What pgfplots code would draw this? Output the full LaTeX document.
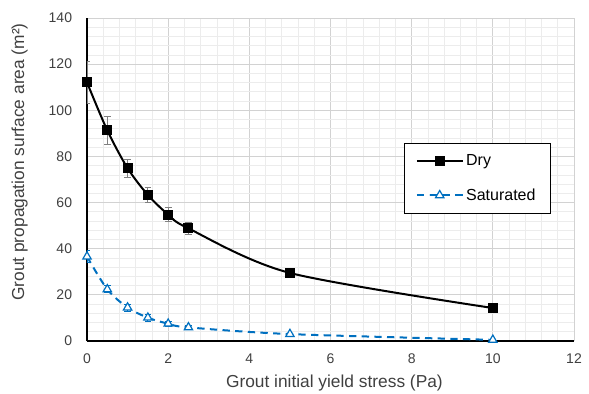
\documentclass[border=0pt]{standalone}
\usepackage{pgfplots}
\pgfplotsset{compat=1.18}
\usepackage{fontspec}
\setmainfont{Liberation Sans}
\definecolor{satblue}{RGB}{0,112,192}
\definecolor{txtgray}{RGB}{64,64,64}
\begin{document}
\begin{tikzpicture}
\begin{axis}[
  scale only axis, width=365.25pt, height=242.25pt,
  xmin=0, xmax=12, ymin=0, ymax=140,
  xtick={0,2,...,12}, ytick={0,20,...,140},
  minor x tick num=4, minor y tick num=4,
  grid=both,
  major grid style={gray!35, line width=0.6pt},
  minor grid style={gray!15, line width=0.5pt},
  axis x line*=bottom, axis y line*=left,
  axis line style={black, line width=1.3pt, -},
  tick style={draw=none},
  /pgf/number format/assume math mode=true,
  tick label style={font=\fontsize{10.5}{12}\selectfont, text=txtgray, inner sep=0pt},
  xticklabel style={anchor=north, yshift=-9.5pt},
  yticklabel style={anchor=east, xshift=-11pt},
  label style={font=\fontsize{13}{15}\selectfont, text=txtgray},
  xlabel={Grout initial yield stress (Pa)},
  ylabel={Grout propagation surface area (m²)},
  xlabel style={at={(axis description cs:0.508,-0.1455)}, anchor=base},
  ylabel style={at={(axis description cs:-0.129,0.554)}, anchor=base},
  legend style={at={(axis cs:7.8,85.8)}, anchor=north west, draw=black, line width=0.6pt,
    font=\fontsize{12}{14}\selectfont, inner xsep=9pt, inner ysep=6.5pt, row sep=11.5pt},
  legend cell align=left,
  legend image code/.code={\draw[mark repeat=2,mark phase=2] plot coordinates {(0cm,0cm)(0.6cm,0cm)(1.2cm,0cm)};},
]
\addplot[black, line width=1.5pt, smooth, tension=0.5, mark=square*, mark size=3pt, mark options={solid, fill=black},
  error bars/.cd, y dir=both, y explicit,
  error bar style={gray, line width=0.6pt}, error mark options={gray, rotate=90, mark size=2.5pt, line width=0.6pt}]
coordinates {
 (0,112.1) +- (0,9)
 (0.5,91.3) +- (0,6)
 (1,74.9) +- (0,4)
 (1.5,63.3) +- (0,3.3)
 (2,54.8) +- (0,3)
 (2.5,48.8) +- (0,2.5)
 (5,29.5) +- (0,0)
 (10,14.3) +- (0,0)
};
\addlegendentry{Dry}
\addplot[satblue, line width=1.5pt, dash pattern=on 5.5pt off 4pt, smooth, tension=0.5, mark=triangle*, mark size=3.6pt, mark options={solid, fill=white, draw=satblue, line width=0.9pt},
  error bars/.cd, y dir=both, y explicit,
  error bar style={satblue, solid, line width=0.6pt}, error mark options={satblue, solid, rotate=90, mark size=2.5pt, line width=0.6pt}]
coordinates {
 (0,36.6) +- (0,2.5)
 (0.5,22.4) +- (0,1.5)
 (1,14.5) +- (0,1.5)
 (1.5,10.1) +- (0,1.5)
 (2,7.5) +- (0,1.2)
 (2.5,5.9) +- (0,1)
 (5,3) +- (0,0)
 (10,0.5) +- (0,0)
};
\addlegendentry{Saturated}
\end{axis}
\pgfresetboundingbox
\path[use as bounding box] ([xshift=-65.25pt,yshift=-39pt]current axis.south west) rectangle ([xshift=11.25pt,yshift=13.5pt]current axis.north east);
\end{tikzpicture}
\end{document}
